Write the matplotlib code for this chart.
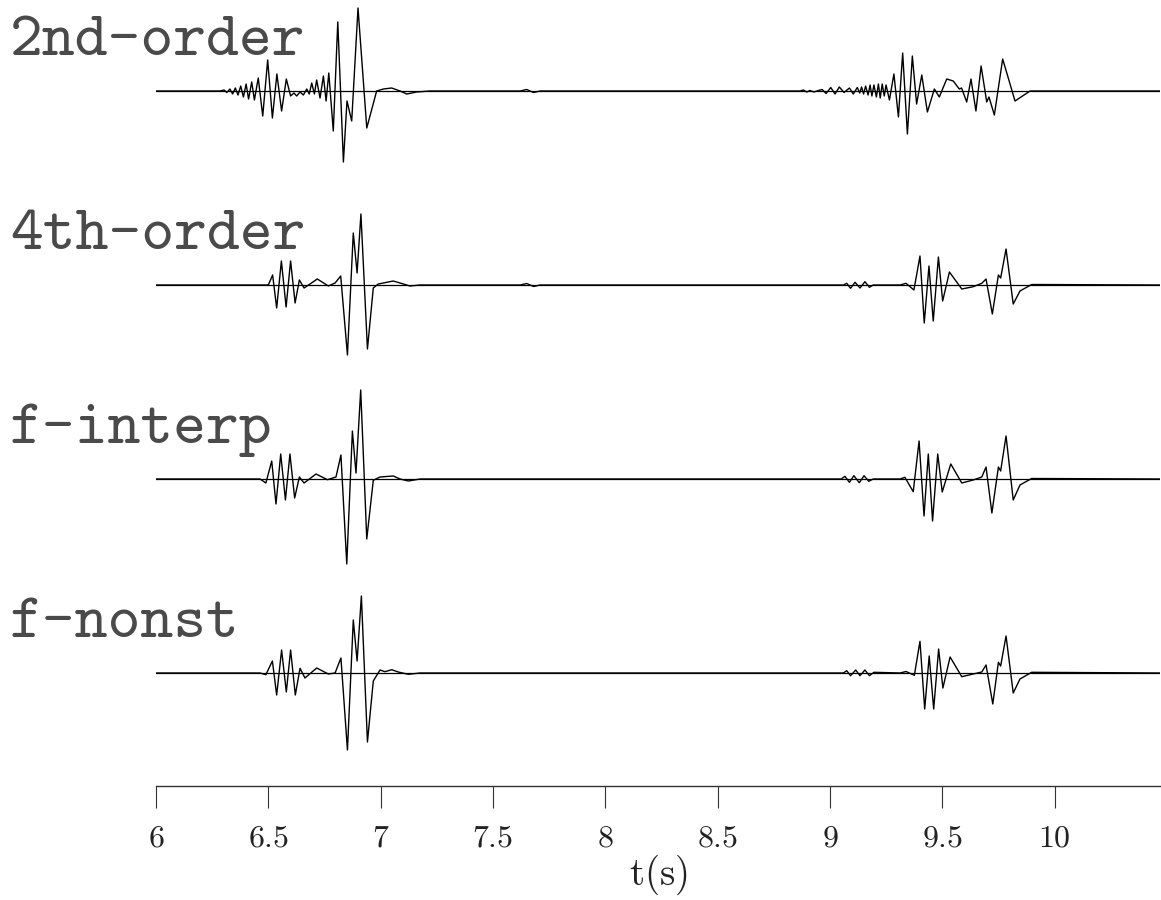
import os
import matplotlib
matplotlib.use('Agg')
import matplotlib.pyplot as plt
from matplotlib import font_manager

trace_2nd = [(6.0, 0), (6.285, 0), (6.303, 1), (6.315, -1.5), (6.329, 2), (6.341, -3), (6.353, 3),
             (6.365, -4), (6.377, 5), (6.389, -6), (6.401, 7), (6.412, -8), (6.426, 9), (6.438, -9),
             (6.455, 13), (6.475, -25), (6.497, 31), (6.518, -27), (6.538, 17), (6.559, -20),
             (6.580, 12), (6.599, -5), (6.614, -2), (6.626, -5), (6.641, -1), (6.656, -4), (6.671, 2),
             (6.682, -3), (6.693, 8), (6.705, -3), (6.715, 11), (6.730, -7), (6.745, 15), (6.757, -10),
             (6.769, 18), (6.789, -40), (6.809, 69), (6.834, -71), (6.850, -10), (6.871, -30),
             (6.899, 83), (6.938, -37), (6.982, 0), (7.012, 2), (7.049, 3), (7.086, 0), (7.116, -3),
             (7.160, -1), (7.219, 0), (7.62, 0), (7.65, 1.5), (7.68, -1.5), (7.71, 0),
             (8.866, 0), (8.881, 1), (8.896, -1), (8.910, 0.5), (8.928, -1), (8.948, 0.5), (8.965, 1.5),
             (8.982, -2.5), (9.003, 3.5), (9.022, -3), (9.041, 4), (9.062, -1.5), (9.086, 3), (9.103, -3),
             (9.121, 3.5), (9.132, -2), (9.140, 4), (9.149, -3), (9.158, 5), (9.169, -4), (9.178, 6),
             (9.186, -5), (9.195, 6), (9.206, -6), (9.215, 7), (9.223, -7), (9.232, 7), (9.241, -5),
             (9.249, 6), (9.264, -9), (9.284, 17), (9.304, -26), (9.323, 38), (9.344, -43), (9.366, 35),
             (9.385, -13), (9.408, 16), (9.433, -21), (9.464, 2), (9.486, -6), (9.519, 12), (9.548, 10),
             (9.575, 2), (9.585, 3), (9.608, -11), (9.627, 12), (9.649, -20), (9.672, 25), (9.697, -11),
             (9.707, -6), (9.731, -24), (9.768, 32), (9.823, -10), (9.890, 0), (10.47, 0)]

trace_4th = [(6.0, 0), (6.500, 0), (6.519, 10), (6.537, -23), (6.558, 24), (6.579, -22), (6.599, 24),
             (6.619, -18), (6.638, 5), (6.659, -3), (6.718, 6), (6.767, -1), (6.797, 2), (6.822, 9),
             (6.852, -70), (6.878, 52), (6.895, 12), (6.912, 71), (6.941, -64), (6.967, -3), (6.989, 1),
             (7.056, 4), (7.101, 1), (7.130, -1), (7.175, 0), (7.62, 0), (7.65, 1.5), (7.68, -1.5),
             (7.71, 0),
             (9.059, 0), (9.074, 1.7), (9.091, -3.3), (9.111, 2.7), (9.133, -3), (9.155, 3.3),
             (9.175, -2.3), (9.192, 0), (9.311, 0), (9.338, 1.7), (9.373, -5), (9.400, 29), (9.419, -38),
             (9.440, 19), (9.459, -36), (9.482, 28), (9.501, -16), (9.531, 13), (9.586, -4),
             (9.637, -1.7), (9.675, 1.7), (9.694, 6), (9.722, -29), (9.749, 10), (9.759, 7), (9.783, 36),
             (9.815, -19), (9.845, -6), (9.897, 0.5), (10.47, 0)]

trace_finterp = [(6.0, 0), (6.463, 0), (6.489, -4), (6.515, 18), (6.534, -25), (6.555, 25), (6.576, -21),
                 (6.596, 25), (6.617, -19), (6.638, 2), (6.659, -4), (6.712, 5), (6.763, -0.7), (6.801, 2),
                 (6.823, 24), (6.849, -85), (6.874, 48), (6.890, 6), (6.911, 89), (6.938, -60),
                 (6.967, -1.3), (6.997, 2), (7.056, 3), (7.086, 0), (7.123, -2), (7.175, 0),
                 (9.050, 0), (9.066, 2.7), (9.086, -3.3), (9.106, 3.3), (9.130, -3.7), (9.151, 3.3),
                 (9.172, -2.3), (9.192, 0), (9.311, 0), (9.333, 1.7), (9.370, -12.7), (9.396, 38),
                 (9.418, -37), (9.437, 25), (9.456, -42), (9.479, 25), (9.499, -13), (9.537, 15),
                 (9.586, -4), (9.637, -1), (9.675, 2), (9.694, 12), (9.720, -34), (9.749, 12), (9.759, 8),
                 (9.783, 43), (9.815, -21), (9.845, -6), (9.897, 0.5), (10.47, 0)]

trace_fnonst = [(6.0, 0), (6.463, 0), (6.489, -1.7), (6.518, 12), (6.537, -22), (6.559, 23), (6.580, -19),
                (6.599, 23), (6.620, -22), (6.641, 4.7), (6.663, -5), (6.715, 5), (6.767, -1), (6.797, 0),
                (6.823, 15), (6.852, -77), (6.878, 53), (6.895, 12), (6.914, 77), (6.941, -69),
                (6.967, -8), (6.997, 3), (7.019, 1.3), (7.049, 3.3), (7.078, 1), (7.123, -1.3), (7.175, 0),
                (9.059, 0), (9.074, 2.3), (9.091, -2.7), (9.114, 3), (9.133, -2.7), (9.155, 3),
                (9.175, -2.7), (9.195, 0.7), (9.311, 0), (9.338, 1.5), (9.375, -2.3), (9.400, 31.7),
                (9.421, -36), (9.441, 17), (9.461, -36), (9.483, 24), (9.502, -15), (9.534, 16),
                (9.586, -3.7), (9.637, -1), (9.675, 1), (9.694, 8), (9.724, -31), (9.749, 10.7),
                (9.759, 7), (9.783, 37), (9.815, -20), (9.845, -6), (9.897, 0.7), (10.47, 0)]

traces = [trace_2nd, trace_4th, trace_finterp, trace_fnonst]
names = ['2nd-order', '4th-order', 'f-interp', 'f-nonst']
xticks = [6, 6.5, 7, 7.5, 8, 8.5, 9, 9.5, 10]
xticklabels = ['6', '6.5', '7', '7.5', '8', '8.5', '9', '9.5', '10']

plt.rcParams['mathtext.fontset'] = 'cm'
# computer modern typewriter ships with matplotlib
tt = font_manager.FontProperties(fname=os.path.join(matplotlib.get_data_path(), 'fonts', 'ttf', 'cmtt10.ttf'),
                                 size=45)

W, H = 1161, 900
fig = plt.figure(figsize=(W / 100, H / 100), dpi=100)
# axes from x=156px to right edge, bottom spine at y=786px
ax = fig.add_axes([156 / W, (H - 786) / H, (W - 1 - 156) / W, 786 / H])

gap = 194          # trace spacing
top_pad = 91       # first baseline below figure top
for i, tr in enumerate(traces):
    t = [p[0] for p in tr]
    a = [p[1] - i * gap for p in tr]
    ax.axhline(-i * gap, color='black', lw=0.9)
    ax.plot(t, a, color='black', lw=1.0, solid_joinstyle='round')
    fig.text(10 / W, 1 - (top_pad - 36 + i * gap) / H, names[i], fontproperties=tt,
             va='baseline', ha='left', color='#4a4a4a')

ax.set_xlim(6, 6 + (W - 1 - 156) / 224.7)
ax.set_ylim(-(786 - top_pad), top_pad)
for s in ['top', 'right', 'left']:
    ax.spines[s].set_visible(False)
ax.spines['bottom'].set_linewidth(1.0)
ax.spines['bottom'].set_color('#333333')
ax.set_yticks([])
ax.set_xticks(xticks)
ax.set_xticklabels(['$' + s + '$' for s in xticklabels])
ax.tick_params(axis='x', direction='out', length=16, width=0.8, pad=10, labelsize=23,
               color='#333333', labelcolor='#222222')
ax.set_xlabel('$\\mathrm{t(s)}$', fontsize=28, labelpad=0, color='#222222')

fig.savefig('out.png', dpi=100)
